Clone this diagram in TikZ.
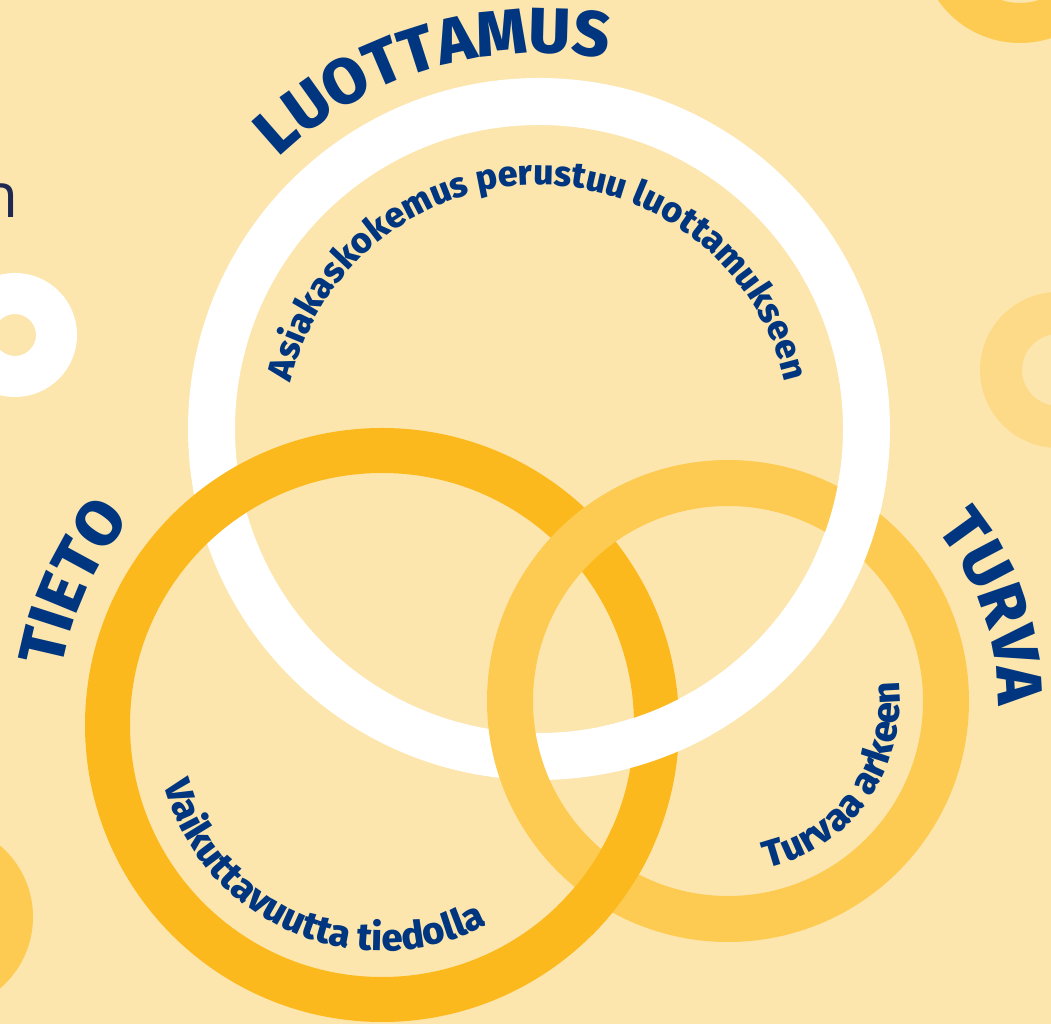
\documentclass[tikz,border=0pt]{standalone}
\usepackage{fontspec}
\usepackage{tikz}
\usetikzlibrary{decorations.text}
\setmainfont{Fira Sans}
\IfFontExistsTF{Fira Sans ExtraBold}
	{\newfontfamily\headfont{Fira Sans ExtraBold}\newcommand\headweight{}}
	{\newfontfamily\headfont{Fira Sans}\newcommand\headweight{\bfseries}}
\newfontfamily\thinfont{Open Sans}
\newcommand\mottosize{38}
\definecolor{cream}{HTML}{FCE6AE}
\definecolor{sunflower}{HTML}{FCB91E}
\definecolor{honey}{HTML}{FECB52}
\definecolor{paleyellow}{HTML}{FDDA88}
\definecolor{navy}{HTML}{003580}
\definecolor{ink}{HTML}{1E2850}
\tikzset{%
	ring/.style     = {draw=#1, line width=46pt}, % big band
	dot/.style      = {draw=#1, line width=40pt}, % small background ring
	title/.style    = {decorate, decoration={text along path, text align=center, text color=navy,
	                   text={|\headfont\headweight\fontsize{64}{70}\selectfont|#1}}}, % word outside a ring
	motto/.style    = {decorate, decoration={text along path, text align=center, text color=navy,
	                   text={|\headfont\headweight\fontsize{\mottosize}{42}\selectfont|#1}}}, % line inside a ring
}

\begin{document}
\begin{tikzpicture}[x=1pt, y=1pt]
	\useasboundingbox (0,0) rectangle (1051,1024);
	\clip (0,0) rectangle (1051,1024);
	\fill[cream] (0,0) rectangle (1051,1024);
	% centres
	\coordinate (wc) at (539,595);
	\coordinate (oc) at (382,299);
	\coordinate (yc) at (728,323);
	\coordinate (tc) at (538,586);
	% crossings to weave
	\coordinate (wo) at (656,289);
	\coordinate (oy) at (607,142);
	\coordinate (wy) at (853,502);
	% background circles
	\draw[dot=white, line width=41pt] (15,689) circle[radius=41.5];
	\draw[dot=honey] (1020,1081) circle[radius=80];
	\draw[dot=paleyellow, line width=42pt] (1058,654) circle[radius=57];
	\fill[honey] (-61,107) circle[radius=94];
	\node[anchor=base east, text=ink, font=\thinfont\fontsize{62}{66}\selectfont] (cut) at (22,806) {n};
	% rings
	\draw[ring=white, line width=47pt] (wc) circle[radius=327.5];
	\draw[ring=sunflower, line width=45pt] (oc) circle[radius=274.5];
	\draw[ring=honey] (yc) circle[radius=218];
	\begin{scope}
		\clip (wo) circle[radius=55];
		\draw[ring=white, line width=47pt] (wc) circle[radius=327.5];
	\end{scope}
	\begin{scope}
		\clip (oy) circle[radius=55];
		\draw[ring=sunflower, line width=45pt] (oc) circle[radius=274.5];
	\end{scope}
	\begin{scope}
		\clip (wy) circle[radius=55];
		\draw[ring=white, line width=47pt] (wc) circle[radius=327.5];
	\end{scope}
	% words
	\path[title=LUOTTAMUS] ([shift={(146.7:376)}]wc) arc[start angle=146.7, end angle=66.7, radius=376];
	\path[title=TIETO] ([shift={(175.3:325)}]oc) arc[start angle=175.3, end angle=135.3, radius=325];
	\path[title=TURVA] ([shift={(44.3:270)}]yc) arc[start angle=44.3, end angle=-5.7, radius=270];
	{\renewcommand\mottosize{35.5}
	\path[motto=Asiakaskokemus perustuu luottamukseen] ([shift={(175:253)}]tc) arc[start angle=175, end angle=5, radius=253];}
	\path[motto=Vaikuttavuutta tiedolla] ([shift={(180:226)}]oc) arc[start angle=180, end angle=313, radius=226];
	\path[motto=Turvaa arkeen] ([shift={(275:172)}]yc) arc[start angle=275, end angle=375, radius=172];
\end{tikzpicture}
\end{document}
